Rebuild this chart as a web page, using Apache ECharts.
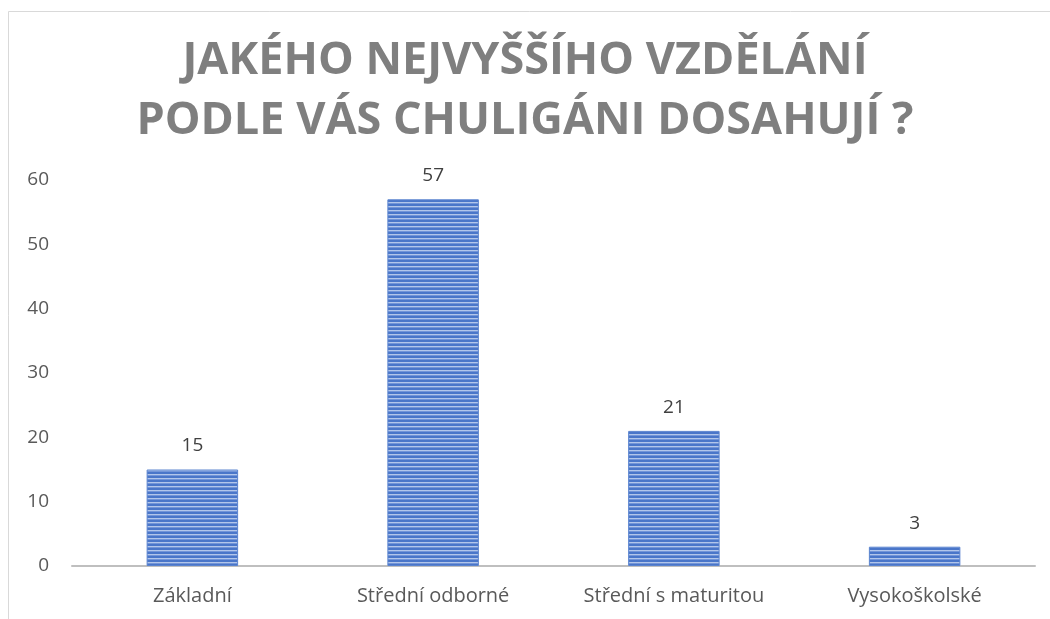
<!DOCTYPE html>
<html>
<head>
<meta charset="utf-8">
<script src="https://cdn.jsdelivr.net/npm/echarts@6/dist/echarts.min.js"></script>
<style>
  html, body { margin: 0; padding: 0; background: #fff; }
  #chart { width: 1050px; height: 619px; }
</style>
</head>
<body>
<div id="chart"></div>
<script>
// data
const categories = ['Základní', 'Střední odborné', 'Střední s maturitou', 'Vysokoškolské'];
const values = [15, 57, 21, 3];
const titleText = 'JAKÉHO NEJVYŠŠÍHO VZDĚLÁNÍ\nPODLE VÁS CHULIGÁNI DOSAHUJÍ ?';

// striped fill like the original (horizontal lines)
const stripe = document.createElement('canvas');
stripe.width = 4;
stripe.height = 4;
const ctx = stripe.getContext('2d');
ctx.fillStyle = '#4a76c9';
ctx.fillRect(0, 0, 4, 2);
ctx.fillStyle = '#b2c6ea';
ctx.fillRect(0, 2, 4, 1);
ctx.fillStyle = '#7395d8';
ctx.fillRect(0, 3, 4, 1);

const chart = echarts.init(document.getElementById('chart'));

const option = {
    animation: false,
    backgroundColor: '#fff',
    title: {
        text: titleText,
        left: 'center',
        top: 26,
        textStyle: {
            fontFamily: 'Open Sans',
            fontWeight: 'bold',
            fontSize: 45,
            color: '#7f7f7f',
            lineHeight: 60
        }
    },
    graphic: [{
        type: 'rect',
        shape: { x: 8.5, y: 11.5, width: 1100, height: 700 },
        style: { fill: 'none', stroke: '#d9d9d9', lineWidth: 1 },
        silent: true
    }],
    grid: {
        left: 72,
        right: 15,
        top: 180,
        bottom: 53
    },
    xAxis: {
        type: 'category',
        data: categories,
        axisLine: { lineStyle: { color: '#bfbfbf', width: 2 } },
        axisTick: { show: false },
        axisLabel: {
            margin: 20,
            fontFamily: 'Open Sans',
            fontSize: 20,
            color: '#595959'
        }
    },
    yAxis: {
        type: 'value',
        min: 0,
        max: 60,
        interval: 10,
        splitLine: { show: false },
        axisLine: { show: false },
        axisLabel: {
            margin: 23,
            fontFamily: 'Open Sans',
            fontSize: 19,
            color: '#595959'
        }
    },
    series: [{
        type: 'bar',
        data: values,
        barWidth: '38%',
        itemStyle: {
            color: { image: stripe, repeat: 'repeat' },
            borderColor: '#5b84cf',
            borderWidth: 1
        },
        label: {
            show: true,
            position: 'top',
            distance: 14,
            fontFamily: 'Open Sans',
            fontSize: 19,
            color: '#404040'
        }
    }]
};

chart.setOption(option);
</script>
</body>
</html>
